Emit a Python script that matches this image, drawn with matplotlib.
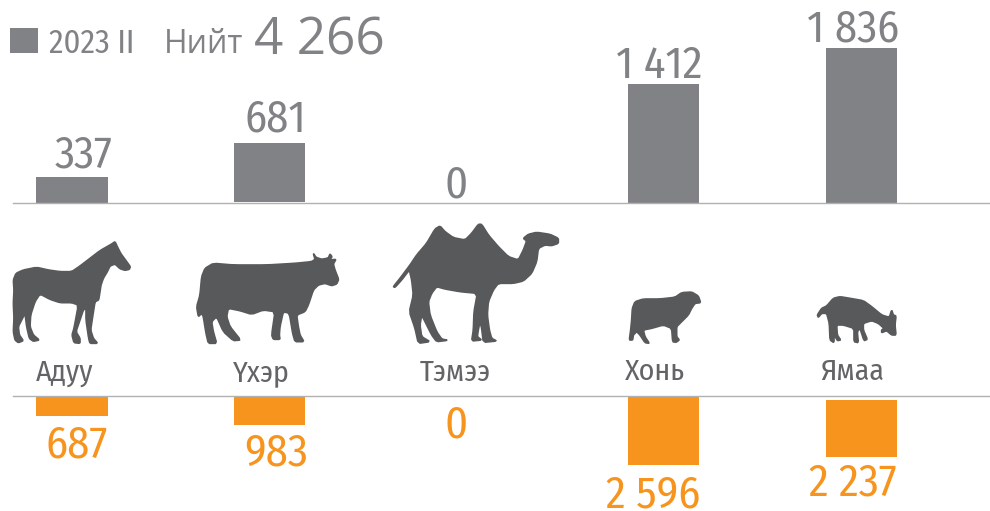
#!/usr/bin/env python3
"""Livestock counts by species: 2023 II bars above, orange bars below, animal silhouettes between."""
import matplotlib
matplotlib.use("Agg")
import matplotlib.pyplot as plt
from matplotlib.patches import Polygon, Rectangle

W, H = 990, 511
GRAY = "#808285"
ORANGE = "#F7941E"
DARK = "#58595B"
LINE = "#B1B1B3"
NARROW = ["Fira Sans Condensed", "Open Sans", "DejaVu Sans"]
WIDE = ["Open Sans", "DejaVu Sans"]

categories = ["Адуу", "Үхэр", "Тэмээ", "Хонь", "Ямаа"]
top_labels = ["337", "681", "0", "1 412", "1 836"]
bottom_labels = ["687", "983", "0", "2 596", "2 237"]
# bar lengths as drawn in the picture, the source is not quite to scale
top_lengths = [307, 689, 0, 1412, 1836]
top_lift = [0, 19, 0, 0, 0]
bottom_lengths = [748, 1089, 0, 2596, 2152]
bottom_lift = [0, 0, 0, 0, 152]

# text anchors in image pixels: centre x, baseline y
top_label_pos = [(84, 167), (275, 132), (456, 197), (659, 78), (853, 41)]
bottom_label_pos = [(77, 457), (276, 465), (456, 438), (653, 507), (853, 496)]
name_pos = [(65, 381), (261, 381), (455, 381), (655, 380), (852, 380)]

# silhouettes, (offset, outline)
horse = ((0, 220), [(345,65),(352,80),(362,100),(378,122),(391,140),(388,148),(375,151),(360,146),(345,132),(330,138),(322,155),(310,175),(303,195),(300,215),(296,240),(285,245),(278,290),(272,330),(280,355),(293,370),(270,370),(266,355),(258,300),(258,265),(250,270),(240,300),(228,335),(240,355),(240,370),(222,368),(216,345),(222,325),(235,255),(215,248),(180,248),(150,238),(120,222),(105,245),(92,285),(90,320),(100,345),(118,360),(100,364),(88,355),(80,320),(75,280),(65,300),(55,320),(58,345),(70,362),(55,368),(45,360),(40,335),(42,295),(40,250),(42,210),(40,180),(48,160),(70,150),(110,142),(145,150),(180,155),(215,155),(240,138),(270,115),(300,92),(335,72)])
cow = ((0, 220), [(640,130),(700,135),(800,135),(885,130),(935,125),(945,118),(940,100),(948,112),(965,118),(985,114),(990,102),(996,110),(990,120),(1008,118),(1000,132),(1005,150),(1016,178),(1010,192),(995,197),(975,190),(955,195),(940,210),(925,255),(915,275),(890,285),(895,320),(900,345),(912,365),(885,365),(878,340),(868,280),(850,275),(840,320),(838,345),(840,358),(820,358),(815,345),(825,275),(790,270),(755,283),(720,272),(685,265),(680,290),(690,320),(722,360),(700,362),(670,335),(650,290),(635,305),(640,335),(650,370),(625,370),(618,340),(610,290),(605,280),(595,290),(590,260),(600,225),(605,170),(615,145)])
camel = ((380, 215), [(40,215),(60,190),(90,150),(110,120),(140,85),(165,42),(180,33),(195,50),(220,68),(255,75),(275,55),(295,28),(305,28),(325,60),(355,95),(385,125),(415,135),(430,105),(440,78),(430,70),(445,58),(470,52),(510,58),(535,70),(535,85),(515,92),(495,90),(475,100),(470,140),(455,175),(430,198),(400,205),(355,205),(340,225),(325,260),(322,300),(328,345),(335,370),(350,378),(310,382),(305,340),(300,320),(295,345),(292,365),(305,375),(275,378),(280,345),(282,290),(292,235),(240,230),(195,222),(170,215),(155,235),(145,260),(150,300),(170,350),(185,372),(203,376),(170,380),(155,360),(125,300),(120,330),(125,365),(150,380),(115,385),(105,340),(88,290),(100,240),(95,195),(88,165),(65,195),(45,217)])
sheep = ((610, 280), [(75,65),(100,57),(150,57),(195,52),(215,38),(245,36),(265,48),(272,68),(255,70),(245,85),(235,105),(210,130),(200,140),(200,170),(208,180),(198,187),(188,185),(185,145),(160,135),(125,145),(100,150),(105,170),(118,190),(105,188),(90,165),(80,155),(70,165),(68,180),(58,180),(62,150),(65,120),(67,85)])
goat = ((610, 280), [(622,105),(635,85),(650,78),(670,55),(690,50),(720,55),(760,62),(785,80),(815,105),(838,112),(845,90),(850,105),(858,108),(855,135),(858,165),(845,165),(830,152),(815,158),(815,150),(822,145),(805,130),(785,122),(760,130),(760,150),(772,178),(762,182),(750,145),(742,155),(745,188),(732,185),(732,145),(700,135),(680,135),(682,165),(692,180),(682,182),(672,162),(672,188),(660,180),(658,130),(650,100),(635,100),(625,112)])


def band_axes(fig, y_top, y_bottom, ylim):
    """Axes across the full width, y_top and y_bottom in image pixels, x in category units."""
    ax = fig.add_axes([0, 1 - y_bottom / H, 1, (y_bottom - y_top) / H])
    ax.set_xlim(-72 / 197.3, (W - 72) / 197.3)
    ax.set_ylim(*ylim)
    ax.patch.set_alpha(0)
    ax.set_xticks([])
    ax.set_yticks([])
    for s in ax.spines.values():
        s.set_visible(False)
    return ax


def rounded(pts):
    # one pass of corner cutting so the outlines are not so angular
    out = []
    for i, (a, b) in enumerate(pts):
        c, d = pts[(i + 1) % len(pts)]
        out.append((0.85 * a + 0.15 * c, 0.85 * b + 0.15 * d))
        out.append((0.15 * a + 0.85 * c, 0.15 * b + 0.85 * d))
    return out


def main():
    fig = plt.figure(figsize=(W / 100, H / 100), dpi=100, facecolor="white")
    x = list(range(len(categories)))

    top = band_axes(fig, 0, 203.3, (0, 2399))
    top.bar(x, top_lengths, bottom=top_lift, width=0.36, color=GRAY)
    top.spines["bottom"].set_visible(True)
    top.spines["bottom"].set_color(LINE)
    top.spines["bottom"].set_linewidth(1.0)
    top.spines["bottom"].set_bounds(12.5 / 197.3 - 72 / 197.3, (W - 72) / 197.3)

    low = band_axes(fig, 396.3, H, (4353, 0))
    low.bar(x, bottom_lengths, bottom=bottom_lift, width=0.36, color=ORANGE)
    low.spines["top"].set_visible(True)
    low.spines["top"].set_color(LINE)
    low.spines["top"].set_linewidth(1.0)
    low.spines["top"].set_bounds(12.5 / 197.3 - 72 / 197.3, (W - 72) / 197.3)

    # overlay in image pixels for the texts and silhouettes
    px = fig.add_axes([0, 0, 1, 1])
    px.set_xlim(0, W)
    px.set_ylim(H, 0)
    px.axis("off")

    for (ox, oy), pts in [horse, cow, camel, sheep, goat]:
        outline = rounded([(ox + a / 3, oy + b / 3) for a, b in pts])
        px.add_patch(Polygon(outline, closed=True, fc=DARK, ec=DARK, lw=1.2, joinstyle="round"))

    for label, (lx, ly) in zip(top_labels, top_label_pos):
        px.text(lx, ly, label, color=GRAY, fontsize=32, family=NARROW, weight=400, ha="center", va="baseline")
    for label, (lx, ly) in zip(bottom_labels, bottom_label_pos):
        px.text(lx, ly, label, color=ORANGE, fontsize=32, family=NARROW, weight=400, ha="center", va="baseline")
    for label, (lx, ly) in zip(categories, name_pos):
        px.text(lx, ly, label, color="#636466", fontsize=21.5, family=NARROW, weight=400, ha="center", va="baseline")

    px.add_patch(Rectangle((10.3, 27.7), 27.4, 25.6, fc=GRAY, ec="none"))
    px.text(49, 53.3, "2023 II", color=GRAY, fontsize=23.5, family=NARROW, weight=400, ha="left", va="baseline")
    px.text(164, 52.7, "Нийт", color=GRAY, fontsize=23, family=WIDE, ha="left", va="baseline")
    px.text(254, 54.3, "4 266", color=GRAY, fontsize=37, family=WIDE, ha="left", va="baseline")

    fig.savefig("out.png", dpi=100, facecolor="white")
    plt.close(fig)


if __name__ == "__main__":
    main()
